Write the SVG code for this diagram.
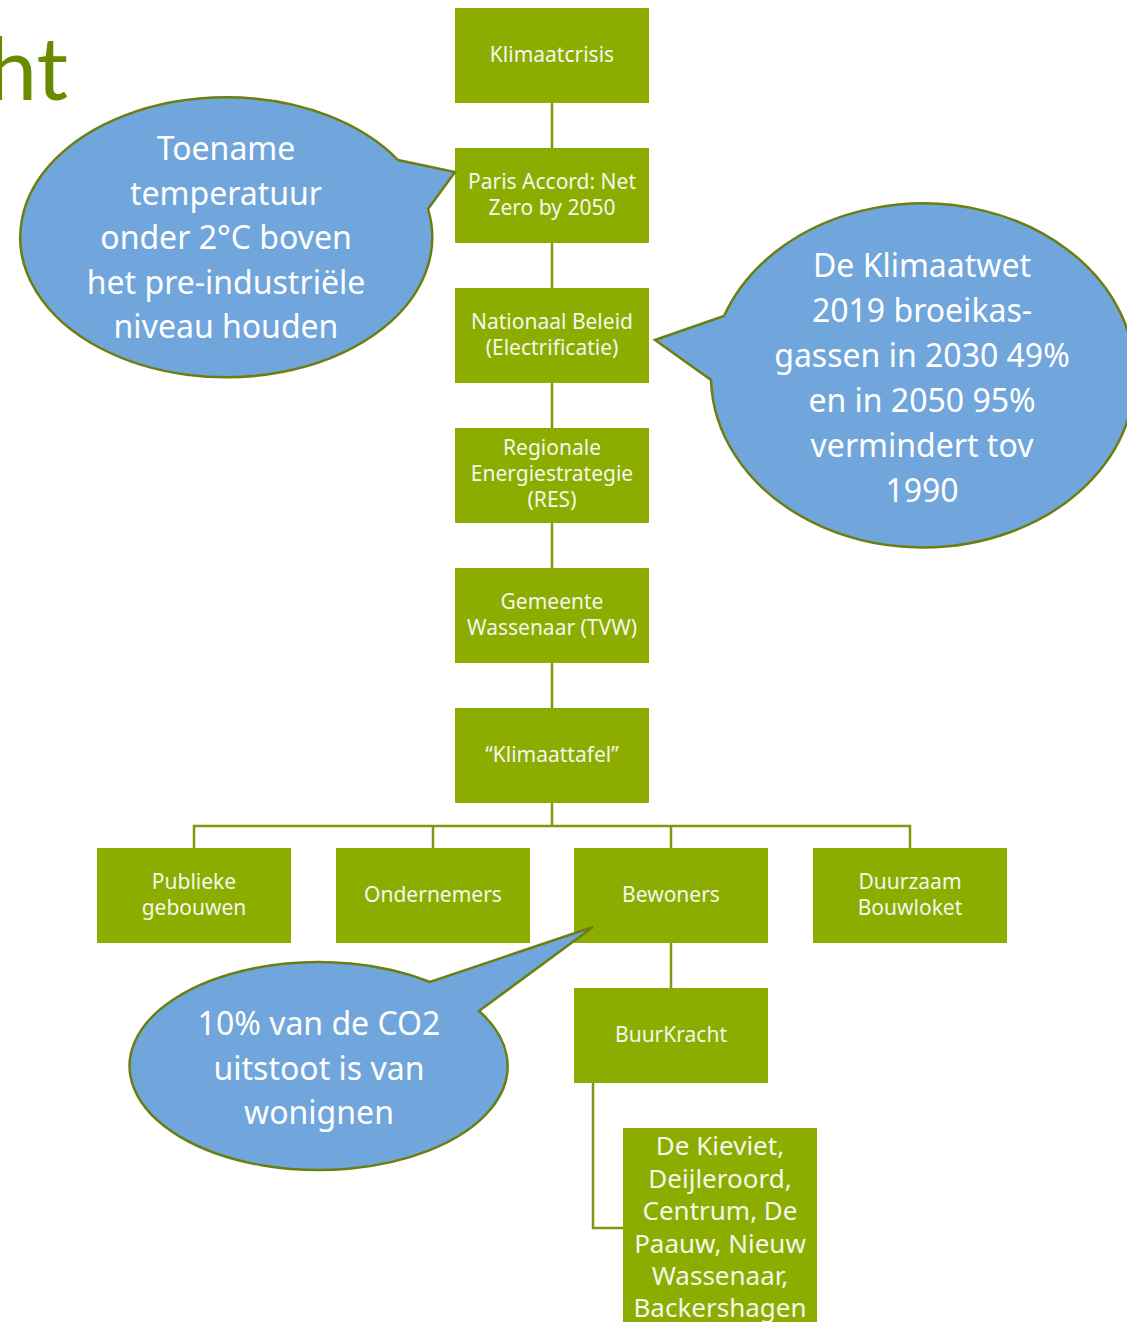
<svg xmlns="http://www.w3.org/2000/svg" width="1127" height="1322" viewBox="0 0 1127 1322">
<style>
.box{fill:#8CAC00}
.bt{font-family:"Noto Sans",Lato,sans-serif;font-size:21px;fill:#F4F7EC;text-anchor:middle}
.bl{font-size:26px}
.con{stroke:#7C9A0A;stroke-width:2.5;fill:none}
.bub{fill:#71A6DC;stroke:#6B7F10;stroke-width:2.5}
.ct{font-family:"Noto Sans",Lato,sans-serif;font-size:32px;fill:#FFFFFF;text-anchor:middle}
</style>
<rect width="1127" height="1322" fill="#FFFFFF"/>
<text x="68" y="100" font-family="Lato,'Noto Sans',sans-serif" font-size="88" fill="#6A8A00" text-anchor="end">ht</text>
<g id="connectors">
<line class="con" x1="552" y1="103" x2="552" y2="148"/>
<line class="con" x1="552" y1="243" x2="552" y2="288"/>
<line class="con" x1="552" y1="383" x2="552" y2="428"/>
<line class="con" x1="552" y1="523" x2="552" y2="568"/>
<line class="con" x1="552" y1="663" x2="552" y2="708"/>
<line class="con" x1="552" y1="803" x2="552" y2="826"/>
<polyline class="con" points="194,848 194,826 910,826 910,848"/>
<line class="con" x1="433" y1="826" x2="433" y2="848"/>
<line class="con" x1="671" y1="826" x2="671" y2="848"/>
<line class="con" x1="671" y1="943" x2="671" y2="988"/>
<polyline class="con" points="593,1083 593,1228 623,1228"/>
</g>
<g id="klimaatcrisis"><rect class="box" x="455" y="8" width="194" height="95"/><text class="bt" x="552" y="62">Klimaatcrisis</text></g>
<g id="paris"><rect class="box" x="455" y="148" width="194" height="95"/><text class="bt" x="552" y="189">Paris Accord: Net</text><text class="bt" x="552" y="215">Zero by 2050</text></g>
<g id="nationaal"><rect class="box" x="455" y="288" width="194" height="95"/><text class="bt" x="552" y="329">Nationaal Beleid</text><text class="bt" x="552" y="355">(Electrificatie)</text></g>
<g id="regionale"><rect class="box" x="455" y="428" width="194" height="95"/><text class="bt" x="552" y="455">Regionale</text><text class="bt" x="552" y="481">Energiestrategie</text><text class="bt" x="552" y="507">(RES)</text></g>
<g id="gemeente"><rect class="box" x="455" y="568" width="194" height="95"/><text class="bt" x="552" y="609">Gemeente</text><text class="bt" x="552" y="635">Wassenaar (TVW)</text></g>
<g id="klimaattafel"><rect class="box" x="455" y="708" width="194" height="95"/><text class="bt" x="552" y="762">“Klimaattafel”</text></g>
<g id="publieke"><rect class="box" x="97" y="848" width="194" height="95"/><text class="bt" x="194" y="889">Publieke</text><text class="bt" x="194" y="915">gebouwen</text></g>
<g id="ondernemers"><rect class="box" x="336" y="848" width="194" height="95"/><text class="bt" x="433" y="902">Ondernemers</text></g>
<g id="bewoners"><rect class="box" x="574" y="848" width="194" height="95"/><text class="bt" x="671" y="902">Bewoners</text></g>
<g id="duurzaam"><rect class="box" x="813" y="848" width="194" height="95"/><text class="bt" x="910" y="889">Duurzaam</text><text class="bt" x="910" y="915">Bouwloket</text></g>
<g id="buurkracht"><rect class="box" x="574" y="988" width="194" height="95"/><text class="bt" x="671" y="1042">BuurKracht</text></g>
<g id="wijken"><rect class="box" x="623" y="1128" width="194" height="200"/>
<text class="bt bl" x="720" y="1155">De Kieviet,</text>
<text class="bt bl" x="720" y="1188">Deijleroord,</text>
<text class="bt bl" x="720" y="1220">Centrum, De</text>
<text class="bt bl" x="720" y="1253">Paauw, Nieuw</text>
<text class="bt bl" x="720" y="1285">Wassenaar,</text>
<text class="bt bl" x="720" y="1317">Backershagen</text>
</g>
<g id="callout-toename">
<path class="bub" d="M398,160 A206,140 0 1 0 428,209 L455,172 Z"/>
<text class="ct" x="226" y="160">Toename</text>
<text class="ct" x="226" y="205">temperatuur</text>
<text class="ct" x="226" y="249">onder 2°C boven</text>
<text class="ct" x="226" y="294">het pre-industriële</text>
<text class="ct" x="226" y="338">niveau houden</text>
</g>
<g id="callout-klimaatwet">
<path class="bub" d="M724,316 A212,172 0 1 1 711,380 L655,340 Z"/>
<text class="ct" x="922" y="277">De Klimaatwet</text>
<text class="ct" x="922" y="322">2019 broeikas-</text>
<text class="ct" x="922" y="367">gassen in 2030 49%</text>
<text class="ct" x="922" y="412">en in 2050 95%</text>
<text class="ct" x="922" y="457">vermindert tov</text>
<text class="ct" x="922" y="502">1990</text>
</g>
<g id="callout-co2">
<path class="bub" d="M430,982 A189,104 0 1 0 479,1011 L593,927 Z"/>
<text class="ct" x="319" y="1035">10% van de CO2</text>
<text class="ct" x="319" y="1080">uitstoot is van</text>
<text class="ct" x="319" y="1124">wonignen</text>
</g>
</svg>
